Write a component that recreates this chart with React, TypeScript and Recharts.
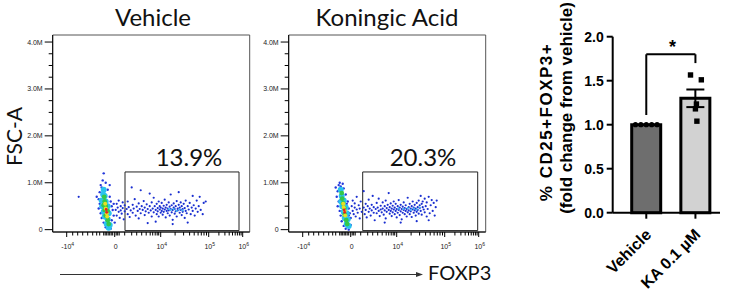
import {
  ScatterChart,
  Scatter,
  ComposedChart,
  Bar,
  Cell,
  ErrorBar,
  XAxis,
  YAxis,
  ReferenceArea,
  ReferenceLine,
} from 'recharts'

// ---- flow plots: x = FOXP3 display channel (biexponential), y = FSC-A in millions ----
const flowXMajor: Record<number, [string, string]> = {
  14: ['-10', '4'],
  62: ['0', ''],
  108: ['10', '4'],
  156: ['10', '5'],
  190: ['10', '6'],
}
const flowXMinor = [
  20, 25, 30, 35, 40, 44, 47, 51, 52.5, 54, 55.5, 57, 58.5, 60, 63.5, 65, 66.5,
  72, 79, 84, 89, 93.5, 97.5, 100, 102.5, 104.5, 106,
  122.4, 130.9, 136.9, 141.5, 145.4, 148.6, 151.3, 153.8,
  166.2, 172.2, 176.5, 179.8, 182.5, 184.7, 186.7, 188.4,
]
const flowYTicks = [0, 0.25, 0.5, 0.75, 1, 1.25, 1.5, 1.75, 2, 2.25, 2.5, 2.75, 3, 3.25, 3.5, 3.75, 4]
const flowYLabels: Record<number, string> = { 0: '0', 1: '1.0M', 2: '2.0M', 3: '3.0M', 4: '4.0M' }

type Pt = [number, number]

// Vehicle
const vehSpread: Pt[] = [
  [26, 0.7], [63, 0.42], [64, 0.55], [64, 0.3], [65, 0.47], [66, 0.38], [66, 0.62], [67, 0.25], [68, 0.5], [68, 0.41],
  [69, 0.34], [70, 0.58], [70, 0.46], [71, 0.22], [72, 0.39], [72, 0.52], [74, 0.44], [75, 0.6], [75, 0.33], [76, 0.48],
  [77, 0.27], [78, 0.41], [79, 0.9], [80, 0.53], [80, 0.36], [81, 0.45], [82, 0.65], [83, 0.3], [84, 0.49], [85, 0.4],
  [86, 0.56], [86, 0.24], [87, 0.44], [88, 0.35], [88, 0.84], [89, 0.5], [90, 0.42], [91, 0.61], [92, 0.31], [92, 0.47],
  [93, 0.39], [94, 0.54], [95, 0.14], [95, 0.44], [96, 0.36], [97, 0.5], [97, 0.77], [98, 0.41], [99, 0.28], [99, 0.58],
  [100, 0.45], [101, 0.37], [101, 0.68], [102, 0.5], [103, 0.42], [103, 0.17], [104, 0.33], [104, 0.55], [105, 0.46], [105, 0.39],
  [106, 0.6], [106, 0.28], [107, 0.43], [107, 0.5], [108, 0.36], [108, 0.47], [109, 0.4], [109, 0.57], [110, 0.32], [110, 0.45],
  [111, 0.51], [111, 0.38], [112, 0.43], [112, 0.64], [113, 0.26], [113, 0.47], [114, 0.4], [114, 0.53], [115, 0.35], [115, 0.45],
  [116, 0.58], [116, 0.41], [117, 0.3], [117, 0.49], [118, 0.44], [118, 0.75], [119, 0.37], [119, 0.52], [120, 0.42], [120, 0.21],
  [121, 0.47], [121, 0.56], [122, 0.34], [122, 0.44], [123, 0.5], [123, 0.39], [124, 0.61], [124, 0.28], [125, 0.45], [125, 0.41],
  [126, 0.53], [126, 0.8], [127, 0.36], [127, 0.47], [128, 0.42], [128, 0.58], [129, 0.31], [129, 0.5], [130, 0.44], [130, 0.38],
  [131, 0.55], [132, 0.25], [132, 0.46], [133, 0.4], [133, 0.62], [134, 0.35], [135, 0.5], [135, 0.15], [136, 0.43], [137, 0.57],
  [138, 0.33], [139, 0.47], [140, 0.72], [140, 0.4], [141, 0.52], [142, 0.3], [143, 0.45], [144, 0.62], [145, 0.38], [146, 0.5],
  [147, 0.7], [148, 0.42], [150, 0.33], [151, 0.57], [153, 0.6], [120, 0.12],
]
const vehSpreadLight: Pt[] = [[116, 0.44], [118, 0.42], [121, 0.44], [124, 0.4], [127, 0.43], [130, 0.41]]
const vehFringe: Pt[] = [
  [48, 0.95], [50, 1.05], [51, 1.2], [49, 0.9], [47, 0.8], [55, 0.85], [46, 0.65], [47, 0.55], [57, 0.7], [58, 0.6],
  [46, 0.45], [59, 0.5], [48, 0.35], [60, 0.42], [49, 0.25], [61, 0.3], [51, 0.15], [59, 0.2], [53, 0.05], [58, 0.02],
  [62, 0.15], [44, 0.7], [57, 0.95], [53, 1.0], [56, 0.08], [61, 0.55],
]
const vehCyan: Pt[] = [
  [51, 0.85], [50.5, 0.75], [52, 0.72], [51, 0.62], [53, 0.6], [49.5, 0.5], [52, 0.5], [55, 0.5], [51, 0.38],
  [56, 0.35], [52, 0.28], [55, 0.22], [54, 0.12], [57, 0.1], [56, 0.04], [49, 0.62],
]
const vehGreen: Pt[] = [[51.5, 0.7], [52, 0.6], [53, 0.5], [52, 0.42], [55, 0.4], [53, 0.3], [55, 0.2], [56, 0.12], [51, 0.52]]
const vehYellow: Pt[] = [[52.5, 0.55], [53, 0.45], [54, 0.35], [54.5, 0.28]]
const vehRed: Pt[] = [[53.5, 0.43], [54, 0.37]]

// Koningic Acid
const kaSpread: Pt[] = [
  [63, 0.5], [64, 0.4], [64, 0.62], [65, 0.33], [66, 0.47], [66, 0.56], [67, 0.28], [68, 0.43], [68, 0.7], [69, 0.36],
  [70, 0.52], [71, 0.45], [71, 0.24], [72, 0.6], [73, 0.38], [75, 0.47], [75, 0.82], [76, 0.33], [77, 0.55], [77, 0.42],
  [78, 0.26], [79, 0.5], [80, 0.38], [80, 0.64], [81, 0.45], [82, 0.3], [83, 0.53], [83, 0.41], [84, 0.72], [85, 0.36],
  [85, 0.48], [86, 0.2], [87, 0.44], [88, 0.57], [88, 0.35], [89, 0.47], [90, 0.4], [90, 0.66], [91, 0.29], [92, 0.51],
  [92, 0.43], [93, 0.37], [94, 0.58], [94, 0.45], [95, 0.32], [96, 0.5], [96, 0.41], [97, 0.24], [97, 0.62], [98, 0.46],
  [98, 0.38], [99, 0.53], [100, 0.42], [100, 0.78], [101, 0.34], [101, 0.48], [102, 0.56], [102, 0.4], [103, 0.29], [103, 0.45],
  [104, 0.51], [104, 0.37], [105, 0.43], [105, 0.6], [106, 0.33], [106, 0.47], [107, 0.4], [107, 0.55], [108, 0.26], [108, 0.44],
  [109, 0.5], [109, 0.36], [110, 0.42], [110, 0.63], [111, 0.31], [111, 0.47], [112, 0.39], [112, 0.53], [113, 0.44], [113, 0.22],
  [114, 0.49], [114, 0.36], [115, 0.42], [115, 0.58], [116, 0.33], [116, 0.46], [117, 0.4], [117, 0.52], [118, 0.28], [118, 0.44],
  [119, 0.37], [119, 0.68], [120, 0.48], [120, 0.41], [121, 0.55], [121, 0.33], [122, 0.45], [122, 0.39], [123, 0.5], [123, 0.27],
  [124, 0.43], [124, 0.6], [125, 0.36], [125, 0.47], [126, 0.41], [126, 0.53], [127, 0.3], [127, 0.45], [128, 0.57], [128, 0.38],
  [129, 0.48], [129, 0.42], [130, 0.34], [130, 0.62], [131, 0.46], [131, 0.52], [132, 0.4], [132, 0.72], [133, 0.55], [133, 0.32],
  [134, 0.48], [134, 0.6], [135, 0.43], [136, 0.37], [136, 0.66], [137, 0.5], [138, 0.28], [138, 0.58], [139, 0.44], [140, 0.7],
  [141, 0.35], [142, 0.52], [143, 0.63], [144, 0.4], [145, 0.57], [146, 0.3], [147, 0.48], [148, 0.62], [112, 0.15], [128, 0.18],
  [140, 0.2], [96, 0.15],
]
const kaSpreadLight: Pt[] = [[110, 0.45], [115, 0.44], [119, 0.46], [122, 0.42], [125, 0.45], [128, 0.43], [131, 0.47]]
const kaFringe: Pt[] = [
  [50, 0.95], [51, 1.0], [52, 0.92], [49, 0.82], [55, 0.88], [48, 0.7], [50, 0.6], [57, 0.75], [49, 0.5], [59, 0.6],
  [51, 0.4], [60, 0.45], [52, 0.3], [61, 0.35], [53, 0.18], [62, 0.25], [55, 0.08], [62, 0.1], [57, 0.02], [60, 0.0],
  [47, 0.9], [54, 0.98], [58, 0.55], [60, 0.3],
]
const kaCyan: Pt[] = [
  [52, 0.85], [53, 0.72], [52.5, 0.6], [55, 0.62], [53.5, 0.5], [57, 0.48], [55, 0.38], [58, 0.35], [56, 0.25],
  [59, 0.22], [58, 0.12], [60, 0.08],
]
const kaGreen: Pt[] = [[53, 0.78], [53.5, 0.66], [54.5, 0.56], [55.5, 0.46], [56, 0.32], [57.5, 0.2], [58.5, 0.12]]
const kaYellow: Pt[] = [[54.5, 0.55], [55, 0.48], [56, 0.4], [56.5, 0.3]]
const kaRed: Pt[] = [[55.5, 0.42], [56, 0.37]]

const vehGate: [number, number] = [72.3, 186.3]
const kaGate: [number, number] = [74, 189]

// ---- bar chart ----
const groups = ['Vehicle', 'KA 0.1 µM']
const groupMeans = [1.0, 1.3]
const groupSem = [0, 0.1]
const vehicleReps = [1.0, 1.0, 1.0, 1.0, 1.0]
const vehicleJitter = [-0.22, -0.11, 0, 0.11, 0.22]
const kaReps = [1.565, 1.51, 1.235, 1.18, 1.04]
const kaJitter = [-0.1, 0.12, 0.02, 0.0, 0.03]
const barFills = ['#6e6e6e', '#d2d2d2']

const toXY = (pts: Pt[]) => pts.map(([x, y]) => ({ x, y }))

function FlowXTick({ x, y, payload }: any) {
  const lab = flowXMajor[payload.value]
  return (
    <g>
      <line x1={x} x2={x} y1={y} y2={y + (lab ? 5 : 3.5)} stroke="#000" />
      {lab && (
        <text x={x + 1} y={y + 17} textAnchor="middle" fontSize={7} fontFamily="Liberation Sans" fill="#222">
          {lab[0]}
          {lab[1] && (
            <tspan dy={-3} fontSize={5}>
              {lab[1]}
            </tspan>
          )}
        </text>
      )}
    </g>
  )
}

function FlowYTick({ x, y, payload }: any) {
  const lab = flowYLabels[payload.value]
  return (
    <g>
      <line x1={x - (lab ? 8 : 4)} x2={x} y1={y} y2={y} stroke="#000" />
      {lab && (
        <text x={x - 10} y={y + 2.5} textAnchor="end" fontSize={7} fontFamily="Liberation Sans" fill="#222">
          {lab}
        </text>
      )}
    </g>
  )
}

interface Layer {
  pts: Pt[]
  color: string
  r: number
}

function FlowPlot({ left, layers, gate }: { left: number; layers: Layer[]; gate: [number, number] }) {
  const xTicks = [...Object.keys(flowXMajor).map(Number), ...flowXMinor]
  return (
    <div style={{ position: 'absolute', left, top: 0 }}>
      <ScatterChart width={260} height={260} margin={{ top: 35, right: 10.3, bottom: 8, left: 12.7 }}>
        <XAxis
          type="number"
          dataKey="x"
          domain={[0, 197]}
          ticks={xTicks}
          interval={0}
          tick={<FlowXTick />}
          tickLine={false}
          tickSize={0}
          tickMargin={0}
          height={20}
          axisLine={{ stroke: '#000' }}
          allowDataOverflow
        />
        <YAxis
          type="number"
          dataKey="y"
          domain={[-0.05, 4.15]}
          ticks={flowYTicks}
          interval={0}
          tick={<FlowYTick />}
          tickLine={false}
          tickSize={0}
          tickMargin={0}
          width={40}
          axisLine={{ stroke: '#000' }}
          allowDataOverflow
        />
        <ReferenceArea x1={0} x2={197} y1={-0.05} y2={4.15} fill="none" stroke="#555" strokeOpacity={1} />
        <ReferenceArea x1={gate[0]} x2={gate[1]} y1={-0.02} y2={1.23} fill="none" stroke="#222" strokeOpacity={1} />
        {layers.map((l, i) => (
          <Scatter
            key={i}
            data={toXY(l.pts)}
            isAnimationActive={false}
            shape={(p: any) => <circle cx={p.cx} cy={p.cy} r={l.r} fill={l.color} />}
          />
        ))}
      </ScatterChart>
    </div>
  )
}

function layersOf(spread: Pt[], light: Pt[], fringe: Pt[], cyan: Pt[], green: Pt[], yellow: Pt[], red: Pt[]): Layer[] {
  return [
    { pts: spread, color: '#1a2fd0', r: 1.1 },
    { pts: light, color: '#3fb3f0', r: 1.1 },
    { pts: fringe, color: '#2438dc', r: 1.2 },
    { pts: cyan, color: '#29c3ee', r: 3 },
    { pts: green, color: '#33c84a', r: 2.4 },
    { pts: yellow, color: '#e6e024', r: 2 },
    { pts: red, color: '#e42222', r: 1.4 },
  ]
}

function BarXTick({ x, y, payload }: any) {
  const px = x + 6
  const py = y + 15
  return (
    <text
      x={px}
      y={py}
      textAnchor="end"
      transform={`rotate(-45, ${px}, ${py})`}
      fontSize={16}
      fontWeight="bold"
      fontFamily="Liberation Sans"
      fill="#000"
    >
      {payload.value}
    </text>
  )
}

function FoldChart() {
  const barData = groups.map((name, i) => ({ name, mean: groupMeans[i], sem: groupSem[i] }))
  const vehPts = vehicleReps.map((y, i) => ({ x: 0 + vehicleJitter[i], y }))
  const kaPts = kaReps.map((y, i) => ({ x: 1 + kaJitter[i], y }))
  const black = { stroke: '#000', strokeWidth: 2 }
  return (
    <div style={{ position: 'absolute', left: 520, top: 0 }}>
      <ComposedChart width={215} height={295} data={barData} margin={{ top: 36.7, right: 15, bottom: 22.3, left: 52.7 }}>
        <XAxis
          xAxisId="cat"
          dataKey="name"
          type="category"
          padding={{ left: 9, right: 0 }}
          height={60}
          interval={0}
          tickSize={6}
          tickMargin={2}
          tickLine={black}
          axisLine={black}
          tick={<BarXTick />}
        />
        <XAxis xAxisId="j" dataKey="x" type="number" domain={[-0.5, 1.5]} padding={{ left: 9, right: 0 }} hide allowDataOverflow />
        <YAxis
          domain={[0, 2]}
          ticks={[0, 0.5, 1, 1.5, 2]}
          tickFormatter={(v: number) => v.toFixed(1)}
          width={40}
          tickSize={6}
          tickMargin={3}
          tickLine={black}
          axisLine={black}
          tick={{ fill: '#000', fontSize: 14, fontWeight: 'bold', fontFamily: 'Liberation Sans' }}
        />
        <Bar xAxisId="cat" dataKey="mean" barSize={29} stroke="#000" strokeWidth={3} isAnimationActive={false}>
          {barData.map((_, i) => (
            <Cell key={i} fill={barFills[i]} />
          ))}
          <ErrorBar dataKey="sem" width={9} stroke="#000" strokeWidth={2} direction="y" />
        </Bar>
        <ReferenceLine xAxisId="j" segment={[{ x: 0, y: 1.11 }, { x: 0, y: 1.8 }]} stroke="#000" strokeWidth={2} />
        <ReferenceLine xAxisId="j" segment={[{ x: 0, y: 1.8 }, { x: 1, y: 1.8 }]} stroke="#000" strokeWidth={2} />
        <ReferenceLine xAxisId="j" segment={[{ x: 1, y: 1.8 }, { x: 1, y: 1.7 }]} stroke="#000" strokeWidth={2} />
        <Scatter
          xAxisId="j"
          data={vehPts}
          dataKey="y"
          isAnimationActive={false}
          shape={(p: any) => <circle cx={p.cx} cy={p.cy} r={2.6} fill="#000" />}
        />
        <Scatter
          xAxisId="j"
          data={kaPts}
          dataKey="y"
          isAnimationActive={false}
          shape={(p: any) => <rect x={p.cx - 2.7} y={p.cy - 2.7} width={5.4} height={5.4} fill="#000" />}
        />
      </ComposedChart>
    </div>
  )
}

export default function App() {
  const lato = 'Lato, "Open Sans", sans-serif'
  return (
    <div style={{ position: 'absolute', left: 0, top: 0, width: 735, height: 295, background: '#fff', overflow: 'hidden' }}>
      <FlowPlot left={0} gate={vehGate} layers={layersOf(vehSpread, vehSpreadLight, vehFringe, vehCyan, vehGreen, vehYellow, vehRed)} />
      <FlowPlot left={236.3} gate={kaGate} layers={layersOf(kaSpread, kaSpreadLight, kaFringe, kaCyan, kaGreen, kaYellow, kaRed)} />
      <FoldChart />
      <svg width={735} height={295} style={{ position: 'absolute', left: 0, top: 0, pointerEvents: 'none' }}>
        <text x={153} y={26} textAnchor="middle" fontSize={24} fontFamily={lato} fill="#111">Vehicle</text>
        <text x={387} y={26} textAnchor="middle" fontSize={24} fontFamily={lato} fill="#111">Koningic Acid</text>
        <text x={189} y={166} textAnchor="middle" fontSize={24} fontFamily={lato} fill="#111">13.9%</text>
        <text x={423} y={166} textAnchor="middle" fontSize={24} fontFamily={lato} fill="#111">20.3%</text>
        <text transform="translate(21.5,136.5) rotate(-90)" textAnchor="middle" fontSize={21} fontFamily={lato} fill="#111">FSC-A</text>
        <line x1={60} y1={274.5} x2={418} y2={274.5} stroke="#333" strokeWidth={1} />
        <polygon points="423,274.5 416,272 416,277" fill="#333" />
        <text x={428} y={280} fontSize={20} fontFamily={lato} fill="#111">FOXP3</text>
        <text transform="translate(552,122) rotate(-90)" textAnchor="middle" fontSize={17} fontWeight="bold" letterSpacing={1.5} fontFamily="Liberation Sans" fill="#000">% CD25+FOXP3+</text>
        <text transform="translate(572,108) rotate(-90)" textAnchor="middle" fontSize={17} fontWeight="bold" fontFamily="Liberation Sans" fill="#000">(fold change from vehicle)</text>
        <text x={672.5} y={53} textAnchor="middle" fontSize={18} fontWeight="bold" fontFamily="Liberation Sans" fill="#000">*</text>
      </svg>
    </div>
  )
}
